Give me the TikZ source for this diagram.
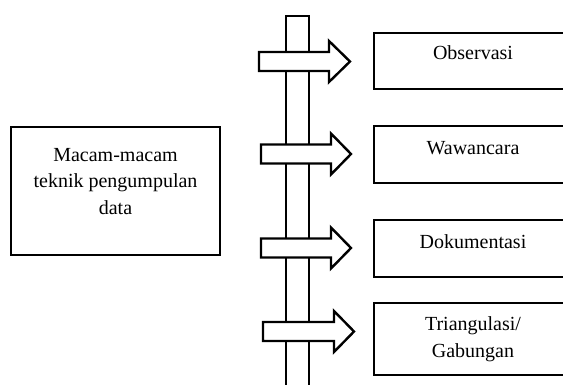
\documentclass[tikz,border=0pt]{standalone}
\usepackage{fontspec}
\setmainfont{Liberation Serif}
\usetikzlibrary{positioning}
\tikzset{
  box/.style={draw=black, line width=2.4pt, rectangle, inner sep=0pt},
  txt/.style={align=center, inner sep=0pt, font=\fontsize{20}{26.5}\selectfont},
  blockarrow/.style={draw=black, fill=white, line width=2.4pt, line join=miter}
}
\begin{document}
\begin{tikzpicture}[x=1pt,y=1pt]
      \useasboundingbox (0,0) rectangle (563,-385);
      \clip (0,0) rectangle (563,-385);
      % left box
      \node [box, minimum width=209pt, minimum height=128pt] (macam) at (115.5,-191) {};
      \node [txt] (macamtxt) at (115.5,-181.5) {Macam-macam\\teknik pengumpulan\\data};
      % vertical bar
      \draw [line width=2.4pt] (286,-400) -- (286,-16) -- (309,-16) -- (309,-400);
      % arrows
      \foreach \y/\xl/\xh/\xt in {61.5/259/329/350, 154/261/331/351, 248/261/331/351, 331.5/263/334/354}
        \draw [blockarrow] (\xl,-\y+9.5) -- (\xh,-\y+9.5) -- (\xh,-\y+20.5) -- (\xt,-\y)
          -- (\xh,-\y-20.5) -- (\xh,-\y-9.5) -- (\xl,-\y-9.5) -- cycle;
      % right boxes
      \node [box, minimum width=198pt, minimum height=56pt] (obs) at (473,-61) {};
      \node [txt] (obstxt) at (473,-53) {Observasi};
      \node [box, minimum width=198pt, minimum height=57pt] (waw) at (473,-154.5) {};
      \node [txt] (wawtxt) at (473,-148) {Wawancara};
      \node [box, minimum width=198pt, minimum height=57pt] (dok) at (473,-248.5) {};
      \node [txt] (doktxt) at (473,-242) {Dokumentasi};
      \node [box, minimum width=198pt, minimum height=72pt] (tri) at (473,-339) {};
      \node [txt] (tritxt) at (473,-339) {Triangulasi/\\Gabungan};
\end{tikzpicture}
\end{document}
